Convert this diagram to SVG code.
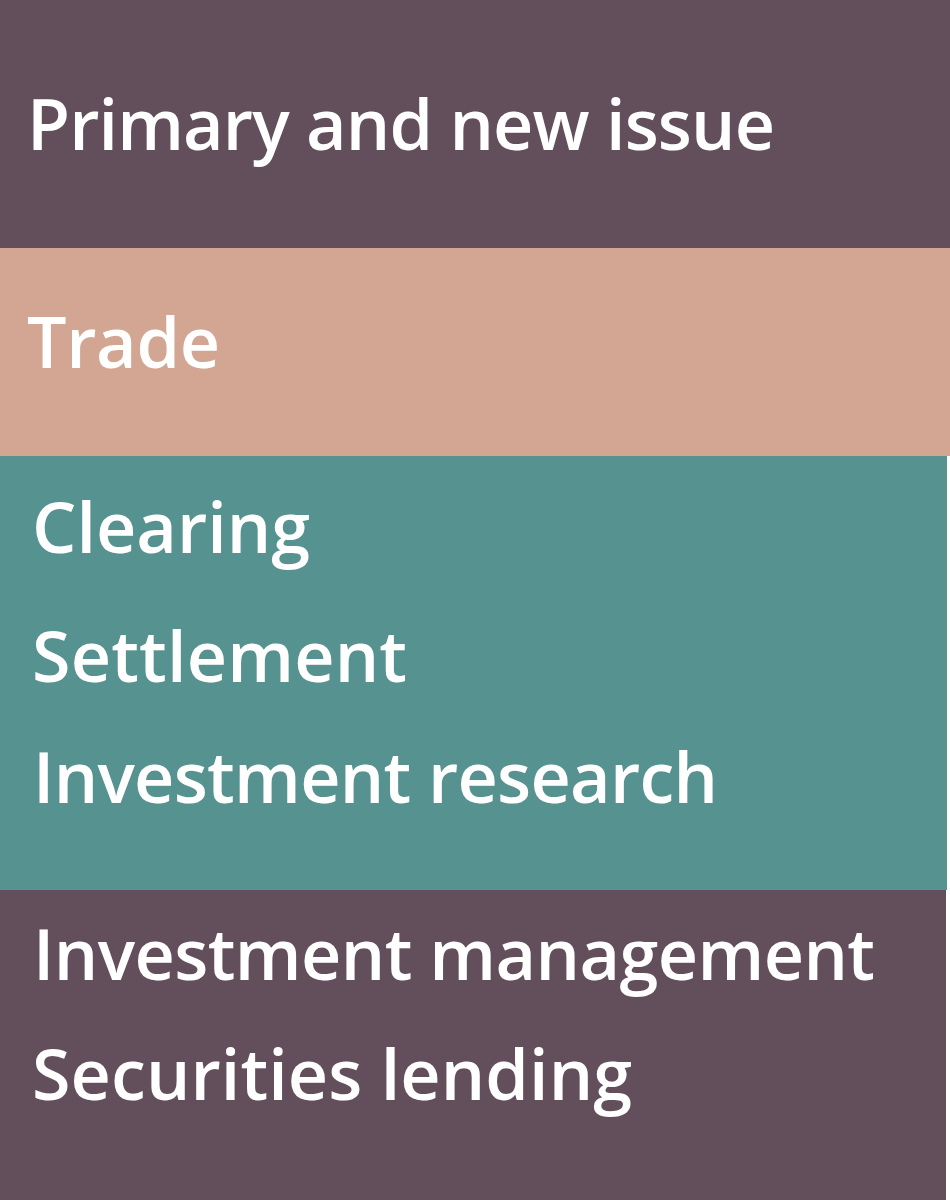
<svg xmlns="http://www.w3.org/2000/svg" width="950" height="1200" viewBox="0 0 950 1200">
<style>
.lbl{font-family:"Open Sans","Noto Sans","Liberation Sans",sans-serif;font-weight:600;font-size:70px;fill:#ffffff;font-variant-ligatures:none}
.purple{fill:#634f5b}
.pink{fill:#d2a693}
.teal{fill:#559290}
</style>
<rect x="0" y="0" width="950" height="1200" fill="#ffffff"/>
<g id="band-primary">
<rect class="purple" x="0" y="0" width="950" height="248"/>
<text class="lbl" x="27" y="150" textLength="748" lengthAdjust="spacing">Primary and new issue</text>
</g>
<g id="band-trade">
<rect class="pink" x="0" y="248" width="950" height="208"/>
<text class="lbl" x="27" y="368" textLength="193" lengthAdjust="spacing">Trade</text>
</g>
<g id="band-post-trade">
<rect class="teal" x="0" y="456" width="947" height="434"/>
<text class="lbl" x="32" y="553" textLength="278" lengthAdjust="spacing">Clearing</text>
<text class="lbl" x="32" y="682" textLength="375" lengthAdjust="spacing">Settlement</text>
<text class="lbl" x="33" y="803" textLength="685" lengthAdjust="spacing">Investment research</text>
</g>
<g id="band-management">
<rect class="purple" x="0" y="890" width="946" height="310"/>
<text class="lbl" x="33" y="980" textLength="842" lengthAdjust="spacing">Investment management</text>
<text class="lbl" x="32" y="1100" textLength="600" lengthAdjust="spacing">Securities lending</text>
</g>
<g id="connectors"/>
</svg>
